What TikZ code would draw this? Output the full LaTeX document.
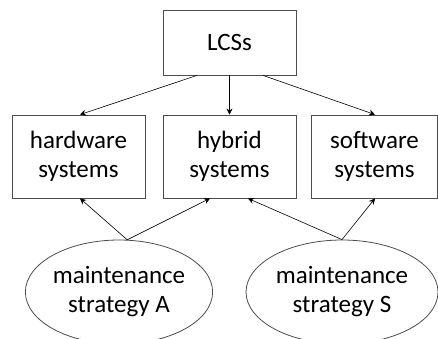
\documentclass[tikz,border=0pt]{standalone}
\usepackage{fontspec}
\setmainfont{Carlito}
\usetikzlibrary{shapes.geometric}
\usetikzlibrary{arrows.meta}

\begin{document}
\begin{tikzpicture}[
    x=1pt, y=-1pt,
    font=\fontsize{25}{29}\selectfont,
    sys box/.style={
        draw=black!70, line width=0.8pt,
        minimum width=133pt, minimum height=83pt,
        inner sep=0pt, align=center
    },
    strat/.style={
        ellipse, draw=black!70, line width=0.8pt,
        minimum width=186pt, minimum height=104pt,
        inner sep=0pt, align=center
    },
    link/.style={
        -{Stealth[length=6pt,width=6pt]}, line width=0.6pt
    }
]
    \useasboundingbox (0,0) rectangle (438,338);
    \clip (0,0) rectangle (438,338);

    \node[sys box, minimum height=65pt] (lcs) at (229.5, 42.5) {LCSs};

    % second row
    \node[sys box] (hw) at (78.5, 156.5) {hardware\\systems};
    \node[sys box] (hyb) at (229.5, 156.5) {hybrid\\systems};
    \node[sys box, minimum width=126pt] (sw) at (374.5, 156.5) {software\\systems};

    % strategies
    \node[strat] (msa) at (119, 292) {maintenance\\strategy A};
    \node[strat, minimum width=192pt] (mss) at (342, 292) {maintenance\\strategy S};

    \draw[link] (lcs.south -| 197,0) -- (hw.north -| 80,0);
    \draw[link] (lcs) -- (hyb);
    \draw[link] (lcs.south -| 263,0) -- (sw.north -| 375,0);

    \draw[link] (msa.81) -- (hw.south -| 80,0);
    \draw[link] (msa.81) -- (hyb.south -| 210,0);
    \draw[link] (mss.north) -- (hyb.south -| 248,0);
    \draw[link] (mss.north) -- (sw.south -| 375,0);

\end{tikzpicture}
\end{document}
